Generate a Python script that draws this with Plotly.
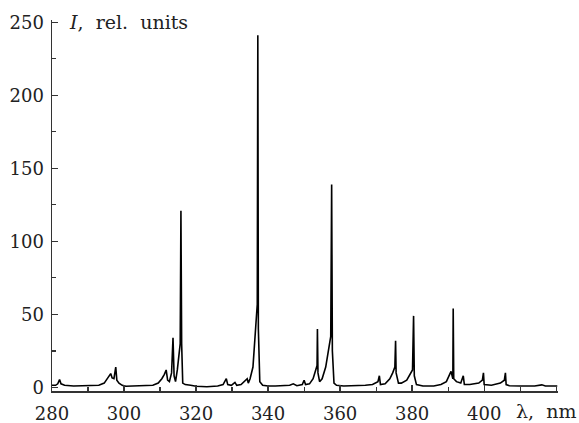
import plotly.graph_objects as go

# Emission spectrum (wavelength, nm; intensity, rel. units)
wavelength = [
    280.0, 281.0, 281.6, 282.1, 282.5, 283.5, 286.0, 290.0, 293.0, 294.5,
    295.3, 295.8, 296.3, 296.7, 297.2, 297.7, 298.0, 298.6, 299.5, 300.5,
    303.0, 306.0, 308.0, 309.5, 310.5, 311.2, 311.7, 312.1, 312.6, 313.2,
    313.6, 313.9, 314.3, 314.8, 315.3, 315.6, 315.8, 316.0, 316.3, 317.0,
    318.5, 320.0, 323.0, 326.0, 327.5, 328.4, 328.8, 329.8, 330.8, 331.3,
    332.5, 333.5, 334.2, 334.5, 335.0, 335.8, 336.4, 336.8, 337.0, 337.15,
    337.3, 337.7, 338.5, 340.0, 342.0, 344.0, 346.0, 347.0, 348.0, 349.5,
    350.0, 350.4, 351.5, 352.5, 353.2, 353.6, 353.7, 353.85, 354.3, 355.0,
    356.0, 356.8, 357.4, 357.65, 357.85, 358.3, 359.0, 361.0, 364.0, 367.0,
    369.0, 370.5, 370.9, 371.2, 372.5, 373.8, 374.6, 375.2, 375.4, 375.55,
    376.2, 377.0, 378.5, 379.5, 380.1, 380.4, 380.6, 381.2, 383.0, 386.0,
    388.0, 389.5, 390.2, 390.8, 391.3, 391.4, 391.55, 392.3, 393.5, 394.2,
    394.5, 396.0, 398.5, 399.5, 399.8, 400.0, 402.0, 404.5, 405.6, 405.9,
    406.1, 407.0, 410.0, 414.0, 416.0, 417.0, 420.3,
]
intensity = [
    1.5, 1.5, 2.5, 5.5, 2.5, 1.5, 1.0, 1.0, 1.5, 3.0,
    6.0, 8.0, 9.5, 6.5, 6.0, 14.0, 5.0, 3.0, 1.5, 0.8,
    1.0, 1.0, 1.5, 3.0, 6.0, 9.0, 12.0, 5.0, 4.0, 10.0,
    34.0, 8.0, 4.0, 12.0, 22.0, 30.0, 121.0, 30.0, 3.0, 2.0,
    1.5, 0.8, 0.5, 1.0, 2.0, 6.0, 2.0, 1.5, 3.5, 1.5,
    2.0, 4.0, 6.0, 3.0, 6.0, 14.0, 32.0, 50.0, 57.0, 241.0,
    40.0, 4.0, 1.5, 1.0, 1.0, 1.2, 1.5, 2.5, 1.2, 2.0,
    5.0, 2.0, 2.5, 6.0, 11.0, 15.0, 40.0, 10.0, 4.0, 6.0,
    14.0, 28.0, 35.0, 139.0, 25.0, 3.0, 1.5, 1.0, 1.0, 1.5,
    2.0, 4.0, 8.0, 2.0, 2.5, 6.0, 10.0, 14.0, 32.0, 10.0,
    3.0, 3.0, 5.0, 9.0, 12.0, 49.0, 8.0, 2.0, 1.0, 1.0,
    2.0, 4.0, 8.0, 11.0, 6.0, 54.0, 6.0, 4.0, 3.0, 8.0,
    2.0, 2.0, 3.0, 5.0, 10.0, 2.0, 1.5, 3.0, 5.0, 10.0,
    2.0, 1.2, 1.0, 1.0, 1.8, 1.0, 1.0,
]

x_ticks = [280, 300, 320, 340, 360, 380, 400]
y_ticks = [0, 50, 100, 150, 200, 250]

FONT = "DejaVu Serif"

fig = go.Figure()
fig.add_trace(go.Scatter(
    x=wavelength, y=intensity, mode="lines",
    line=dict(color="black", width=1.6),
    hoverinfo="skip", showlegend=False,
))

fig.update_layout(
    width=579, height=423,
    margin=dict(l=52, r=21, t=20, b=32, autoexpand=False),
    paper_bgcolor="white", plot_bgcolor="white",
    font=dict(family=FONT, size=18, color="#222"),
    xaxis=dict(
        range=[280, 420.5], tickvals=x_ticks, ticktext=[str(v) for v in x_ticks],
        showgrid=False, zeroline=False, showline=True, linecolor="#333", linewidth=1.5,
        ticks="inside", ticklen=6, tickwidth=1.3, tickcolor="#333",
        minor=dict(dtick=10, tick0=280, ticks="inside", ticklen=4, tickwidth=1.2, tickcolor="#333"),
        ticklabelstandoff=6, automargin=False,
    ),
    yaxis=dict(
        range=[-2.4, 251.5], tickvals=y_ticks, ticktext=[str(v) for v in y_ticks],
        showgrid=False, zeroline=False, showline=True, linecolor="#333", linewidth=1.5,
        ticks="inside", ticklen=6, tickwidth=1.3, tickcolor="#333",
        minor=dict(dtick=25, tick0=0, ticks="inside", ticklen=4, tickwidth=1.2, tickcolor="#333"),
        ticklabelstandoff=3, automargin=False,
    ),
    annotations=[
        dict(text="<i>I</i>,  rel.  units", xref="paper", yref="y", x=0.03, y=250,
             xanchor="left", yanchor="middle", showarrow=False,
             font=dict(family=FONT, size=19, color="#222")),
        dict(text="λ,  nm", xref="paper", yref="paper", x=0.977, y=0,
             xanchor="center", yanchor="top", yshift=-7, showarrow=False,
             font=dict(family=FONT, size=19, color="#222")),
    ],
)

fig.write_html(
    "out.html",
    config={"displayModeBar": False, "staticPlot": True},
    post_script="document.body.style.margin='0px';document.body.style.overflow='hidden';",
)
